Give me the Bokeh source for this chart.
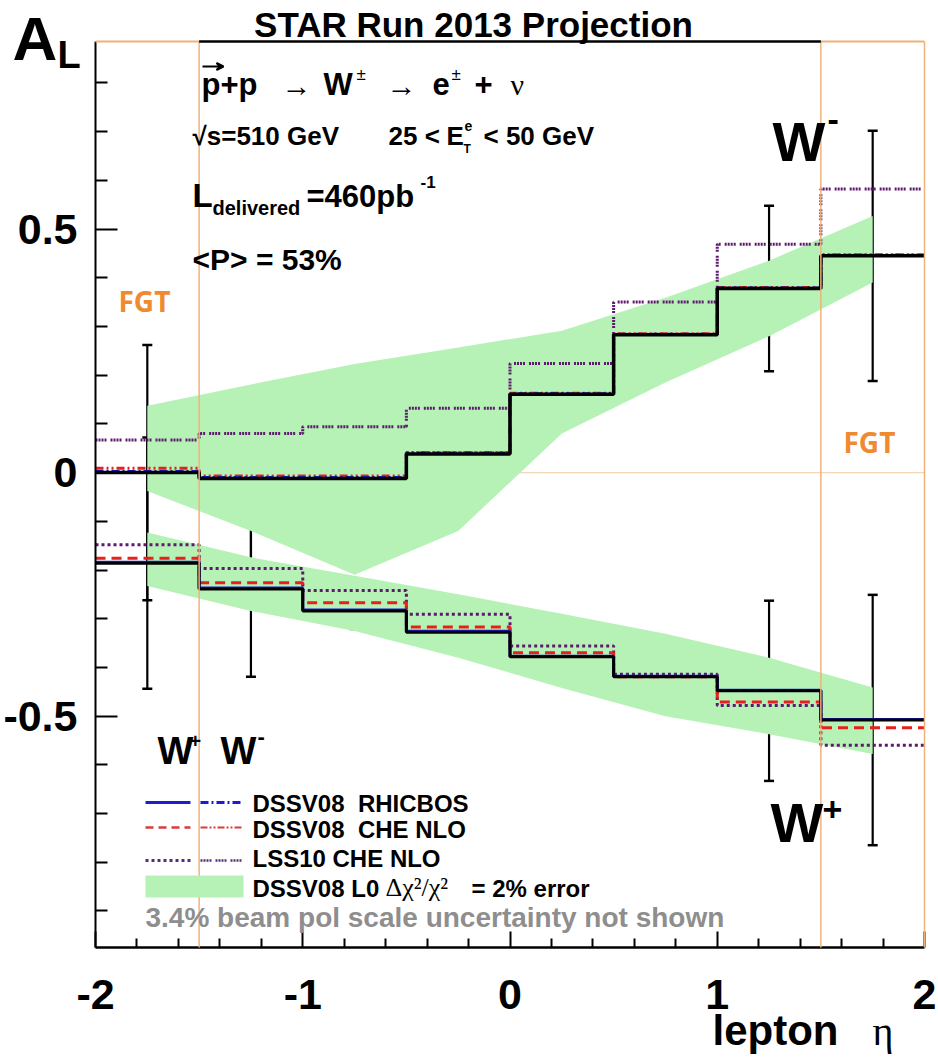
import numpy as np
from bokeh.plotting import figure
from bokeh.models import (Range1d, FixedTicker, Label, Arrow, VeeHead, TeeHead,
                          Whisker, ColumnDataSource, BoxAnnotation)
from bokeh.embed import file_html
from bokeh.resources import INLINE

# ---------------- data ----------------
bin_edges = [-2.0, -1.5, -1.0, -0.5, 0.0, 0.5, 1.0, 1.5, 2.0]
bin_centers = [-1.75, -1.25, -0.75, -0.25, 0.25, 0.75, 1.25, 1.75]
fgt_bounds = [-1.5, 1.5]

# W- projection (black) and its errors
wm_proj = [0.000, -0.012, -0.012, 0.038, 0.161, 0.283, 0.378, 0.445]
wm_err = [0.262, 0.174, 0.060, 0.072, 0.070, 0.061, 0.170, 0.257]
# W+ projection (black) and its errors
wp_proj = [-0.186, -0.239, -0.284, -0.328, -0.378, -0.419, -0.448, -0.508]
wp_err = [0.258, 0.180, 0.037, 0.032, 0.031, 0.036, 0.185, 0.257]

# theory curves
wm_rhicbos = [0.002, -0.010, -0.010, 0.040, 0.162, 0.284, 0.379, 0.446]
wp_rhicbos = [-0.184, -0.237, -0.282, -0.326, -0.377, -0.418, -0.447, -0.507]
wm_che = [0.009, -0.007, -0.007, 0.041, 0.163, 0.285, 0.380, 0.447]
wp_che = [-0.176, -0.226, -0.267, -0.317, -0.370, -0.419, -0.471, -0.524]
wm_lss = [0.067, 0.080, 0.094, 0.132, 0.224, 0.350, 0.469, 0.582]
wp_lss = [-0.148, -0.197, -0.242, -0.291, -0.356, -0.414, -0.478, -0.560]

# DSSV08 LO error bands
wm_band_up = [0.137, 0.181, 0.223, 0.257, 0.291, 0.359, 0.435, 0.527]
wm_band_lo = [-0.038, -0.120, -0.210, -0.120, 0.080, 0.185, 0.280, 0.390]
wp_band_up = [-0.123, -0.174, -0.212, -0.250, -0.290, -0.331, -0.380, -0.441]
wp_band_lo = [-0.233, -0.284, -0.325, -0.380, -0.442, -0.500, -0.537, -0.578]

# axes ticks
x_major_ticks = [-2.0, -1.0, 0.0, 1.0, 2.0]
x_tick_labels = ["-2", "-1", "0", "1", "2"]
x_minor_ticks = [-1.8, -1.6, -1.4, -1.2, -0.8, -0.6, -0.4, -0.2,
                 0.2, 0.4, 0.6, 0.8, 1.2, 1.4, 1.6, 1.8]
y_major_ticks = [-0.5, 0.0, 0.5]
y_tick_labels = ["-0.5", "0", "0.5"]
y_minor_ticks = [-0.9, -0.8, -0.7, -0.6, -0.4, -0.3, -0.2, -0.1,
                 0.1, 0.2, 0.3, 0.4, 0.6, 0.7, 0.8]

# ---------------- geometry ----------------
W, H = 936, 1060
FL, FR, FT, FB = 95, 924, 41, 947          # pixel box of the plotted region
X0, X1, YT, YB = -2.0, 2.0, 0.885, -0.975  # data box
sx = (FR - FL) / (X1 - X0)
sy = (FB - FT) / (YT - YB)
XR0, XR1 = X0 - FL / sx, X1 + (W - FR) / sx
YR1, YR0 = YT + FT / sy, YB - (H - FB) / sy

def X(px):
    return X0 + (px - FL) / sx

def Y(py):
    return YT - (py - FT) / sy

p = figure(width=W, height=H, x_range=Range1d(XR0, XR1), y_range=Range1d(YR0, YR1),
           output_backend="svg", toolbar_location=None, title=None,
           min_border_left=0, min_border_right=0, min_border_top=0, min_border_bottom=0)
p.xgrid.visible = False
p.ygrid.visible = False
p.background_fill_color = "white"
p.border_fill_color = "white"
p.outline_line_color = None

FONT = "Liberation Sans"
for ax, ticks, minors, labels in ((p.xaxis[0], x_major_ticks, x_minor_ticks, x_tick_labels),
                                   (p.yaxis[0], y_major_ticks, y_minor_ticks, y_tick_labels)):
    ax.ticker = FixedTicker(ticks=ticks, minor_ticks=minors)
    ax.major_label_overrides = dict(zip(ticks, labels))
    ax.major_tick_out = 0
    ax.minor_tick_out = 0
    ax.axis_line_color = "black"
    ax.major_tick_line_color = "black"
    ax.minor_tick_line_color = "black"
    ax.major_tick_line_width = 2
    ax.minor_tick_line_width = 2
    ax.major_label_text_font = FONT
    ax.major_label_text_font_style = "bold"
    ax.major_label_text_font_size = "43px"
    ax.major_label_text_color = "black"

p.xaxis.fixed_location = YB
p.xaxis.bounds = (X0, X1)
p.xaxis.major_tick_in = 16
p.xaxis.minor_tick_in = 9
p.xaxis.axis_line_width = 2.5
p.xaxis.major_label_standoff = 32
p.yaxis.fixed_location = X0
p.yaxis.bounds = (YB, YT)
p.yaxis.major_tick_in = 22
p.yaxis.minor_tick_in = 12
p.yaxis.axis_line_width = 2
p.yaxis.major_label_standoff = 18

ORANGE_LINE = "#f0b27a"

def seg(x0, y0, x1, y1, color, width, dash=None, level="annotation"):
    kw = dict(line_dash=dash) if dash else {}
    p.add_layout(Arrow(x_start=x0, y_start=y0, x_end=x1, y_end=y1, start=None, end=None,
                       line_color=color, line_width=width, level=level, **kw))

# zero line (under the bands)
seg(X0, 0.0, X1, 0.0, "#f3d6b8", 1.2, level="underlay")

# bands
GREEN = "#b6f2b6"
p.varea(x=bin_centers, y1=wm_band_lo, y2=wm_band_up, fill_color=GREEN)
p.varea(x=bin_centers, y1=wp_band_lo, y2=wp_band_up, fill_color=GREEN)

BLUE = "#1c1cd0"
RED = "#e8201a"
PURPLE = "#5e1a6e"

def stepline(vals, **kw):
    p.step(x=bin_edges, y=list(vals) + [vals[-1]], mode="after", **kw)

# LSS10 CHE NLO
stepline(wp_lss, line_color=PURPLE, line_width=3, line_dash="3 3")
stepline(wm_lss, line_color=PURPLE, line_width=3, line_dash="2 1 2 1 2 1 2 4")
# DSSV08 CHE NLO
stepline(wp_che, line_color=RED, line_width=3, line_dash="10 6")
stepline(wm_che, line_color=RED, line_width=3, line_dash="8 3 2 3 2 3")
# DSSV08 RHICBOS
stepline(wp_rhicbos, line_color=BLUE, line_width=3)
stepline(wm_rhicbos, line_color=BLUE, line_width=3, line_dash="8 3 2 3")
# projections
stepline(wp_proj, line_color="black", line_width=3)
stepline(wm_proj, line_color="black", line_width=3.5)

for vals, errs in ((wm_proj, wm_err), (wp_proj, wp_err)):
    v = np.array(vals)
    e = np.array(errs)
    src = ColumnDataSource(dict(x=bin_centers, upper=v + e, lower=v - e))
    p.add_layout(Whisker(base="x", upper="upper", lower="lower", source=src,
                         line_color="black", line_width=2.2,
                         upper_head=TeeHead(size=10, line_width=2.5, line_color="black"),
                         lower_head=TeeHead(size=10, line_width=2.5, line_color="black")))

# frame pieces: FGT boxes in orange, central top border black
for b in fgt_bounds:
    seg(b, YB, b, YT, ORANGE_LINE, 1.5)
seg(X1, YB, X1, YT, ORANGE_LINE, 1.5)
seg(X0, YT, fgt_bounds[0], YT, ORANGE_LINE, 2)
seg(fgt_bounds[1], YT, X1, YT, ORANGE_LINE, 2)
seg(fgt_bounds[0], YT, fgt_bounds[1], YT, "black", 2.5)

# ---------------- texts ----------------
# (py is the wanted baseline in pixels; Bokeh's alphabetic anchor sits ~0.37 em above it)
def lab(text, px, py, size, color="black", style="bold", font=FONT, align="left"):
    p.add_layout(Label(x=X(px), y=Y(py - 0.37 * size), text=text, text_font=font,
                       text_font_size=f"{size}px", text_font_style=style,
                       text_color=color, text_align=align, text_baseline="alphabetic"))

lab("STAR Run 2013 Projection", 473, 37, 35, align="center")
lab("A", 12, 61, 62)
lab("L", 57, 69, 38)

# reaction
lab("p+p", 201, 95, 31)
p.add_layout(Arrow(x_start=X(202), y_start=Y(66), x_end=X(223), y_end=Y(66), start=None,
                   end=VeeHead(size=7, line_width=2, line_color="black", fill_color="black"),
                   line_color="black", line_width=2))
lab("\u2192", 281, 96, 30, style="normal")
lab("W", 323, 95, 31)
lab("\u00b1", 356, 80, 17, style="normal")
lab("\u2192", 386, 96, 30, style="normal")
lab("e", 432, 95, 31)
lab("\u00b1", 451, 80, 17, style="normal")
lab("+", 474, 95, 31)
lab("\u03bd", 510, 95, 30, style="normal", font="Liberation Serif")

lab("\u221as=510 GeV", 192, 145, 26)
lab("25 <", 388, 145, 26)
lab("E", 446, 145, 26)
lab("e", 464, 131, 14)
lab("T", 463, 153, 12)
lab("< 50 GeV", 483, 145, 26)

lab("L", 192, 207, 33)
lab("delivered", 212, 215, 20)
lab("=460pb", 306, 207, 31)
lab("-1", 420, 188, 17)
lab("<P> = 53%", 192, 270, 30)

ORANGE = "#f08a30"
lab("FGT", 118, 311, 28, color=ORANGE, font="Open Sans")
lab("FGT", 843, 452, 28, color=ORANGE, font="Open Sans")

lab("W", 772, 162, 56)
lab("-", 827, 132, 34)
lab("W", 770, 843, 56)
lab("+", 822, 822, 34)

# legend
lab("W", 157, 765, 38)
lab("+", 189, 748, 20)
lab("W", 220, 765, 38)
lab("-", 257, 744, 22)

legend_samples = [
    (802, BLUE, 3, None, BLUE, 3, "8 3 2 3"),
    (827, "#d83c3c", 2.5, "8 5", "#d83c3c", 2, "7 2 2 2 2 2"),
    (860, "#5a2a7a", 3, "3 3", "#5a2a7a", 2.5, "2 1 2 1 2 1 2 4"),
]
for yy, c1, w1, d1, c2, w2, d2 in legend_samples:
    seg(X(145), Y(yy), X(190), Y(yy), c1, w1, d1)
    seg(X(200), Y(yy), X(243), Y(yy), c2, w2, d2)
p.add_layout(BoxAnnotation(left=X(145), right=X(243), top=Y(875), bottom=Y(897),
                           fill_color=GREEN, fill_alpha=1.0, line_color=None))

NB = "\u00a0"
lab("DSSV08" + NB + NB + "RHICBOS", 252, 812, 24)
lab("DSSV08" + NB + NB + "CHE NLO", 252, 838, 24)
lab("LSS10 CHE NLO", 252, 867, 24)
lab("DSSV08 L0", 252, 897, 24)
lab("\u0394\u03c7\u00b2/\u03c7\u00b2", 385, 897, 26, style="normal", font="Liberation Serif")
lab("= 2% error", 471, 897, 24)
lab("3.4% beam pol scale uncertainty not shown", 145, 927, 28, color="#8e8e8e")

# x-axis title
lab("lepton", 712, 1046, 42)
lab("\u03b7", 872, 1046, 40, style="normal", font="Liberation Serif")

open("out.html", "w").write(file_html(p, INLINE))
